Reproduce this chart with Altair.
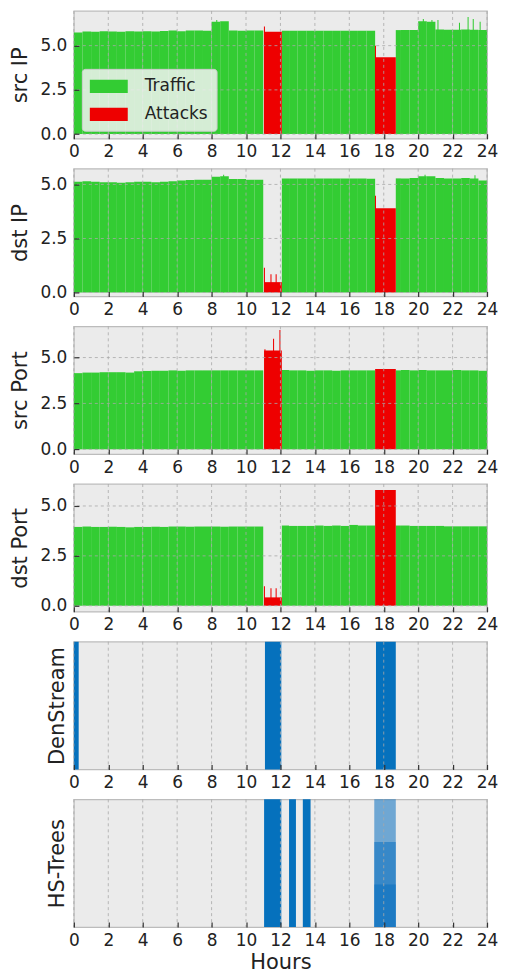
import altair as alt
import pandas as pd

# ---------------- data ----------------
HOUR_TICKS = [0, 2, 4, 6, 8, 10, 12, 14, 16, 18, 20, 22, 24]
Y_TICKS = [0.0, 2.5, 5.0]
BIN_START = [0.0, 0.5, 1.0, 1.5, 2.0, 2.5, 3.0, 3.5, 4.0, 4.5, 5.0, 5.5,
             6.0, 6.5, 7.0, 7.5, 8.0, 8.5, 9.0, 9.5, 10.0, 10.5, 11.0, 11.5,
             12.0, 12.5, 13.0, 13.5, 14.0, 14.5, 15.0, 15.5, 16.0, 16.5, 17.0, 17.5,
             18.0, 18.5, 19.0, 19.5, 20.0, 20.5, 21.0, 21.5, 22.0, 22.5, 23.0, 23.5]
BIN_WIDTH = 0.5

ATTACK_START = [11.05, 17.5]
ATTACK_END = [12.08, 18.7]

N = None
SRC_IP = [5.75, 5.80, 5.78, 5.82, 5.80, 5.78, 5.82, 5.80, 5.82, 5.80, 5.83, 5.85,
          5.82, 5.85, 5.86, 5.84, 6.35, 6.38, 5.85, 5.84, 5.85, 5.85, N, N,
          5.84, 5.84, 5.84, 5.84, 5.84, 5.84, 5.84, 5.84, 5.84, 5.84, 5.84, N,
          N, 5.88, 5.88, 5.88, 6.38, 6.35, 5.92, 5.90, 5.90, 5.92, 5.90, 5.88]
SRC_IP_ATTACK = [5.78, 4.35]
SRC_IP_RED_SPIKE_T = [11.07, 17.52]
SRC_IP_RED_SPIKE_V = [6.08, 5.0]
SRC_IP_GREEN_SPIKE_T = [8.3, 20.3, 20.8, 21.15, 22.4, 22.9, 23.2, 23.6]
SRC_IP_GREEN_SPIKE_V = [6.45, 6.5, 6.45, 6.45, 6.3, 6.62, 6.5, 6.35]

DST_IP = [5.12, 5.15, 5.12, 5.10, 5.10, 5.08, 5.10, 5.12, 5.12, 5.10, 5.12, 5.15,
          5.18, 5.20, 5.22, 5.22, 5.35, 5.38, 5.25, 5.25, 5.22, 5.22, N, N,
          5.28, 5.28, 5.27, 5.28, 5.27, 5.27, 5.28, 5.27, 5.28, 5.27, 5.26, N,
          N, 5.28, 5.28, 5.30, 5.38, 5.38, 5.30, 5.28, 5.28, 5.30, 5.28, 5.18]
DST_IP_ATTACK = [0.48, 3.9]
DST_IP_RED_SPIKE_T = [11.07, 11.45, 11.75, 17.52]
DST_IP_RED_SPIKE_V = [1.15, 0.85, 0.85, 4.48]
DST_IP_GREEN_SPIKE_T = [8.7, 20.4, 23.3]
DST_IP_GREEN_SPIKE_V = [5.45, 5.45, 5.42]

SRC_PORT = [4.15, 4.18, 4.18, 4.20, 4.20, 4.20, 4.18, 4.25, 4.27, 4.28, 4.28, 4.30,
            4.28, 4.30, 4.30, 4.30, 4.30, 4.30, 4.30, 4.30, 4.30, 4.30, N, N,
            4.32, 4.30, 4.30, 4.28, 4.30, 4.30, 4.28, 4.30, 4.30, 4.30, 4.30, N,
            N, 4.30, 4.32, 4.30, 4.32, 4.30, 4.30, 4.30, 4.32, 4.30, 4.30, 4.28]
SRC_PORT_ATTACK = [5.38, 4.38]
SRC_PORT_RED_SPIKE_T = [11.1, 11.6, 11.97]
SRC_PORT_RED_SPIKE_V = [5.45, 6.03, 6.5]
SRC_PORT_GREEN_SPIKE_T = []
SRC_PORT_GREEN_SPIKE_V = []

DST_PORT = [3.95, 3.97, 3.95, 3.95, 3.96, 3.95, 3.93, 3.95, 3.95, 3.96, 3.95, 3.97,
            3.97, 3.96, 3.97, 3.97, 3.97, 3.96, 3.97, 3.97, 3.97, 3.97, N, N,
            4.02, 4.00, 4.00, 4.00, 4.02, 4.00, 4.02, 4.00, 4.05, 4.02, 4.02, N,
            N, 4.02, 4.02, 4.00, 4.00, 4.00, 4.00, 3.98, 3.98, 3.98, 3.98, 3.98]
DST_PORT_ATTACK = [0.42, 5.8]
DST_PORT_RED_SPIKE_T = [11.07, 11.45, 11.75]
DST_PORT_RED_SPIKE_V = [0.98, 0.88, 0.88]
DST_PORT_GREEN_SPIKE_T = []
DST_PORT_GREEN_SPIKE_V = []

Y_DOMAINS = {
    "src IP": [-0.26, 6.96],
    "dst IP": [-0.18, 5.73],
    "src Port": [-0.26, 6.70],
    "dst Port": [-0.30, 6.10],
}

DEN_START = [0.0, 11.1, 17.55]
DEN_END = [0.28, 12.05, 18.7]
DEN_TOP = [1.0, 1.0, 1.0]

HS_START = [11.05, 12.5, 13.3, 17.45, 17.45, 17.45]
HS_END = [12.05, 12.9, 13.75, 18.7, 18.7, 18.7]
HS_TOP = [1.0, 1.0, 1.0, 1.0, 0.667, 0.333]
HS_SOLID = [True, True, True, False, False, False]

SERIES = ["Traffic", "Attacks"]

# ---------------- styles ----------------
GREEN = "#33cc33"
RED = "#ee0000"
BLUE = "#0571bd"
BLUE_T = "#0a6fc0"
BG = "#ebebeb"
GRID = "#a8a8a8"
TXT = "#222222"
FONT = "DejaVu Sans"
W, H = 414, 128
SPIKE_HALF = 0.03


def traffic_df(values, attack, rs_t, rs_v, gs_t, gs_v):
    rows = []
    for s, v in zip(BIN_START, values):
        if v is None:
            continue
        e = s + BIN_WIDTH
        for a0, a1 in zip(ATTACK_START, ATTACK_END):
            if s < a1 and e > a0:
                if s >= a0:
                    s = a1
                elif e <= a1:
                    e = a0
        if e > s:
            rows.append(dict(x=s, x2=e, y=v, series="Traffic"))
    for t, v in zip(gs_t, gs_v):
        rows.append(dict(x=t - SPIKE_HALF, x2=t + SPIKE_HALF, y=v, series="Traffic"))
    for a0, a1, v in zip(ATTACK_START, ATTACK_END, attack):
        rows.append(dict(x=a0, x2=a1, y=v, series="Attacks"))
    for t, v in zip(rs_t, rs_v):
        rows.append(dict(x=t - SPIKE_HALF, x2=t + SPIKE_HALF, y=v, series="Attacks"))
    return pd.DataFrame(rows)


def x_axis(last=False):
    kw = dict(values=HOUR_TICKS, labelFontSize=17, labelFont=FONT, labelColor=TXT,
              tickSize=5, tickColor="#333333", tickWidth=1.2, offset=-5, domain=False,
              grid=False, labelPadding=5, zindex=1, labelFlush=False)
    if last:
        kw.update(title="Hours", titleFontSize=21, titleFont=FONT, titleFontWeight="normal",
                  titleColor=TXT, titlePadding=3)
    else:
        kw.update(title=None)
    return alt.Axis(**kw)


def y_axis(name):
    return alt.Axis(values=Y_TICKS, format=".1f", title=name,
                    titleFontSize=21, titleFont=FONT, titleFontWeight="normal",
                    titleColor=TXT, titlePadding=9,
                    labelFontSize=17, labelFont=FONT, labelColor=TXT,
                    tickSize=5, tickColor="#333333", tickWidth=1.2,
                    offset=-5, domain=False, grid=False, labelPadding=7, zindex=1)


xscale = alt.Scale(domain=[0, 24], nice=False, zero=False)

vgrid_df = pd.DataFrame(dict(x=HOUR_TICKS))
hgrid_df = pd.DataFrame(dict(y=Y_TICKS))


def vgrid(last=False):
    return alt.Chart(vgrid_df).mark_rule(color=GRID, strokeDash=[3, 3], strokeWidth=0.8).encode(
        x=alt.X("x:Q", scale=xscale, axis=x_axis(last)))


def traffic_panel(name, df, legend):
    yscale = alt.Scale(domain=Y_DOMAINS[name], nice=False, zero=False)
    color = alt.Color(
        "series:N",
        scale=alt.Scale(domain=SERIES, range=[GREEN, RED]),
        legend=alt.Legend(
            title=None, orient="bottom-left", offset=8,
            symbolType="M-1,-0.7L3,-0.7L3,0.7L-1,0.7Z", symbolSize=361,
            symbolStrokeWidth=0, symbolOpacity=1,
            labelFontSize=17, labelFont=FONT, labelColor=TXT,
            labelOffset=36, rowPadding=10, padding=8,
            fillColor="rgba(242,242,242,0.85)", strokeColor="#cccccc",
            cornerRadius=3,
        ) if legend else None,
    )
    bars = alt.Chart(df).mark_rect().encode(
        x=alt.X("x:Q", scale=xscale, axis=x_axis()),
        x2="x2:Q",
        y=alt.Y("y:Q", scale=yscale, axis=y_axis(name)),
        y2=alt.datum(0),
        color=color,
    )
    hgrid = alt.Chart(hgrid_df).mark_rule(color=GRID, strokeDash=[3, 3], strokeWidth=0.8).encode(
        y=alt.Y("y:Q", scale=yscale, axis=y_axis(name)))
    return alt.layer(bars, vgrid(), hgrid).properties(width=W, height=H)


def det_axis(name):
    return alt.Axis(title=name, titleFontSize=21, titleFont=FONT, titleFontWeight="normal",
                    titleColor=TXT, titlePadding=6, labels=False, ticks=False,
                    domain=False, grid=False)


def det_panel(name, df, last):
    base = alt.Chart(df).encode(
        x=alt.X("x:Q", scale=xscale, axis=x_axis(last)),
        x2="x2:Q",
        y=alt.Y("y:Q", scale=alt.Scale(domain=[0, 1], nice=False), axis=det_axis(name)),
        y2=alt.datum(0),
    )
    solid = base.transform_filter("datum.solid").mark_rect(color=BLUE)
    partial = base.transform_filter("!datum.solid").mark_rect(color=BLUE_T, opacity=0.55)
    return alt.layer(solid, partial, vgrid(last)).properties(width=W, height=H)


panels = [
    traffic_panel("src IP", traffic_df(SRC_IP, SRC_IP_ATTACK, SRC_IP_RED_SPIKE_T, SRC_IP_RED_SPIKE_V,
                                       SRC_IP_GREEN_SPIKE_T, SRC_IP_GREEN_SPIKE_V), True),
    traffic_panel("dst IP", traffic_df(DST_IP, DST_IP_ATTACK, DST_IP_RED_SPIKE_T, DST_IP_RED_SPIKE_V,
                                       DST_IP_GREEN_SPIKE_T, DST_IP_GREEN_SPIKE_V), False),
    traffic_panel("src Port", traffic_df(SRC_PORT, SRC_PORT_ATTACK, SRC_PORT_RED_SPIKE_T,
                                         SRC_PORT_RED_SPIKE_V, SRC_PORT_GREEN_SPIKE_T,
                                         SRC_PORT_GREEN_SPIKE_V), False),
    traffic_panel("dst Port", traffic_df(DST_PORT, DST_PORT_ATTACK, DST_PORT_RED_SPIKE_T,
                                         DST_PORT_RED_SPIKE_V, DST_PORT_GREEN_SPIKE_T,
                                         DST_PORT_GREEN_SPIKE_V), False),
    det_panel("DenStream", pd.DataFrame(dict(x=DEN_START, x2=DEN_END, y=DEN_TOP,
                                             solid=[True] * len(DEN_START))), False),
    det_panel("HS-Trees", pd.DataFrame(dict(x=HS_START, x2=HS_END, y=HS_TOP, solid=HS_SOLID)), True),
]

chart = alt.vconcat(*panels, spacing=6).resolve_scale(color="independent").configure_view(
    fill=BG, stroke="#bcbcbc", strokeWidth=1.3
).properties(padding={"left": 1, "top": 0, "right": 0, "bottom": 0}, background="white")

chart.save("out.html", embed_options={"renderer": "svg", "actions": False})
